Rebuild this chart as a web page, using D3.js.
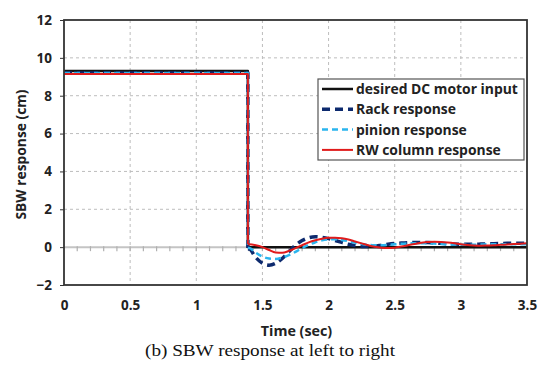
<!DOCTYPE html>
<html>
<head>
<meta charset="utf-8">
<script src="https://cdn.jsdelivr.net/npm/d3@7"></script>
<style>
  body { margin: 0; background: #fff; }
  svg { display: block; }
</style>
</head>
<body>
<script>
// values
const stepTime = 1.39;
const time = [1.40, 1.45, 1.50, 1.55, 1.60, 1.65, 1.70, 1.75, 1.80, 1.85, 1.90, 1.95,
  2.00, 2.05, 2.10, 2.15, 2.20, 2.25, 2.30, 2.35, 2.40, 2.45, 2.50, 2.55, 2.60, 2.65,
  2.70, 2.75, 2.80, 2.85, 2.90, 2.95, 3.00, 3.05, 3.10, 3.15, 3.20, 3.25, 3.30, 3.35,
  3.40, 3.45, 3.50];

const desiredBefore = 9.3;
const rackBefore = 9.2;
const pinionBefore = 9.2;
const rwBefore = 9.15;

const desired = time.map(() => 0);
const rack = [-0.1, -0.55, -0.85, -0.95, -0.85, -0.6, -0.25, 0.1, 0.35, 0.5, 0.55, 0.52,
  0.45, 0.35, 0.25, 0.15, 0.08, 0.04, 0.03, 0.05, 0.1, 0.15, 0.19, 0.22, 0.24, 0.25,
  0.25, 0.24, 0.22, 0.2, 0.18, 0.16, 0.15, 0.15, 0.15, 0.16, 0.17, 0.18, 0.19, 0.2,
  0.2, 0.2, 0.2];
const pinion = [-0.05, -0.3, -0.5, -0.6, -0.62, -0.55, -0.42, -0.25, -0.05, 0.12, 0.26, 0.36,
  0.41, 0.42, 0.38, 0.32, 0.24, 0.17, 0.12, 0.1, 0.1, 0.12, 0.15, 0.18, 0.2, 0.21,
  0.21, 0.2, 0.19, 0.17, 0.15, 0.14, 0.13, 0.13, 0.13, 0.14, 0.15, 0.15, 0.15, 0.15,
  0.15, 0.15, 0.15];
const rw = [0.15, 0.1, 0.0, -0.15, -0.28, -0.3, -0.2, -0.05, 0.1, 0.25, 0.36, 0.44,
  0.49, 0.5, 0.47, 0.4, 0.3, 0.2, 0.1, 0.02, -0.03, -0.05, -0.03, 0.03, 0.1, 0.17,
  0.23, 0.27, 0.28, 0.27, 0.24, 0.2, 0.15, 0.11, 0.09, 0.08, 0.09, 0.1, 0.12, 0.14,
  0.16, 0.18, 0.2];

const xTicks = [0, 0.5, 1, 1.5, 2, 2.5, 3, 3.5];
const yTicks = [-2, 0, 2, 4, 6, 8, 10, 12];

const series = [
  { name: "desired DC motor input", before: desiredBefore, vals: desired, color: "#111", width: 2.5, dash: null },
  { name: "Rack response", before: rackBefore, vals: rack, color: "#0d2a6e", width: 3.5, dash: "8,5" },
  { name: "pinion response", before: pinionBefore, vals: pinion, color: "#2bb5ee", width: 2.5, dash: "6,4" },
  { name: "RW column response", before: rwBefore, vals: rw, color: "#e01b1b", width: 2, dash: null }
];

const W = 540, H = 365;
const m = { left: 64, right: 13, top: 20, bottom: 80 };

const svg = d3.select("body").append("svg").attr("width", W).attr("height", H);

const x = d3.scaleLinear().domain([0, 3.5]).range([m.left, W - m.right]);
const y = d3.scaleLinear().domain([-2, 12]).range([H - m.bottom, m.top]);

const font = "'Open Sans', Lato, sans-serif";

// grid
svg.append("g").selectAll("line").data(xTicks.slice(1, -1)).enter().append("line")
  .attr("x1", d => x(d)).attr("x2", d => x(d))
  .attr("y1", y(12)).attr("y2", y(-2))
  .attr("stroke", "#bdbdbd").attr("stroke-width", 1).attr("stroke-dasharray", "3,3");
svg.append("g").selectAll("line").data(yTicks.filter(d => d !== 0 && d !== -2 && d !== 12)).enter().append("line")
  .attr("x1", x(0)).attr("x2", x(3.5))
  .attr("y1", d => y(d)).attr("y2", d => y(d))
  .attr("stroke", "#bdbdbd").attr("stroke-width", 1).attr("stroke-dasharray", "3,3");

// zero line with minor ticks
svg.append("line")
  .attr("x1", x(0)).attr("x2", x(3.5)).attr("y1", y(0)).attr("y2", y(0))
  .attr("stroke", "#c4c4c4").attr("stroke-width", 2);
svg.append("g").selectAll("line").data(d3.range(1, 35)).enter().append("line")
  .attr("x1", d => x(d / 10)).attr("x2", d => x(d / 10))
  .attr("y1", y(0) - 1).attr("y2", y(0) + 4)
  .attr("stroke", "#b0b0b0").attr("stroke-width", 1.2);

// axes labels
const yAxis = d3.axisLeft(y).tickValues(yTicks).tickSize(4).tickPadding(8);
const gy = svg.append("g").attr("transform", `translate(${m.left},0)`).call(yAxis);
gy.select(".domain").remove();
gy.selectAll("line").attr("stroke", "#333");
gy.selectAll("text").attr("font-family", font).attr("font-weight", "bold")
  .attr("font-size", 13.5).attr("fill", "#222");

const xAxis = d3.axisBottom(x).tickValues(xTicks).tickSize(0).tickPadding(15)
  .tickFormat(d3.format("~g"));
const gx = svg.append("g").attr("transform", `translate(0,${y(-2)})`).call(xAxis);
gx.select(".domain").remove();
gx.selectAll("text").attr("font-family", font).attr("font-weight", "bold")
  .attr("font-size", 13.5).attr("fill", "#222");

// lines: flat part + step drawn straight, response drawn smooth
const straight = d3.line().x(d => x(d[0])).y(d => y(d[1]));
const smooth = d3.line().x(d => x(d[0])).y(d => y(d[1])).curve(d3.curveMonotoneX);
series.forEach(s => {
  const stepPts = [[0, s.before], [stepTime, s.before], [stepTime, s.vals[0]]];
  const respPts = [[stepTime, s.vals[0]]].concat(time.map((t, i) => [t, s.vals[i]]));
  [[stepPts, straight], [respPts, smooth]].forEach(([pts, gen]) => {
    svg.append("path").datum(pts)
      .attr("d", gen)
      .attr("fill", "none")
      .attr("stroke", s.color)
      .attr("stroke-width", s.width)
      .attr("stroke-dasharray", s.dash)
      .attr("stroke-linejoin", "round");
  });
});

// plot frame
svg.append("rect")
  .attr("x", x(0)).attr("y", y(12))
  .attr("width", x(3.5) - x(0)).attr("height", y(-2) - y(12))
  .attr("fill", "none").attr("stroke", "#333").attr("stroke-width", 1.8);

// legend
const lg = svg.append("g").attr("transform", "translate(318,79)");
lg.append("rect").attr("width", 206).attr("height", 81)
  .attr("fill", "#fff").attr("stroke", "#555").attr("stroke-width", 1.2);
series.forEach((s, i) => {
  const yy = 10 + i * 20.3;
  lg.append("line").attr("x1", 4).attr("x2", 35).attr("y1", yy).attr("y2", yy)
    .attr("stroke", s.color).attr("stroke-width", s.width)
    .attr("stroke-dasharray", s.dash);
  lg.append("text").attr("x", 38).attr("y", yy + 5)
    .attr("font-family", font).attr("font-weight", "bold").attr("font-size", 13.9)
    .attr("fill", "#222").text(s.name);
});

// titles
svg.append("text")
  .attr("transform", `translate(26,${(y(12) + y(-2)) / 2 + 2}) rotate(-90)`)
  .attr("text-anchor", "middle")
  .attr("font-family", font).attr("font-weight", "bold").attr("font-size", 13.8)
  .attr("fill", "#222").text("SBW response (cm)");
svg.append("text")
  .attr("x", (x(0) + x(3.5)) / 2 + 1).attr("y", 336)
  .attr("text-anchor", "middle")
  .attr("font-family", font).attr("font-weight", "bold").attr("font-size", 14.3)
  .attr("fill", "#222").text("Time (sec)");
svg.append("text")
  .attr("x", 270).attr("y", 356)
  .attr("text-anchor", "middle")
  .attr("font-family", "'Liberation Serif', 'DejaVu Serif', serif").attr("font-size", 17.5)
  .attr("textLength", 250).attr("lengthAdjust", "spacingAndGlyphs")
  .attr("fill", "#111").text("(b) SBW response at left to right");
</script>
</body>
</html>
